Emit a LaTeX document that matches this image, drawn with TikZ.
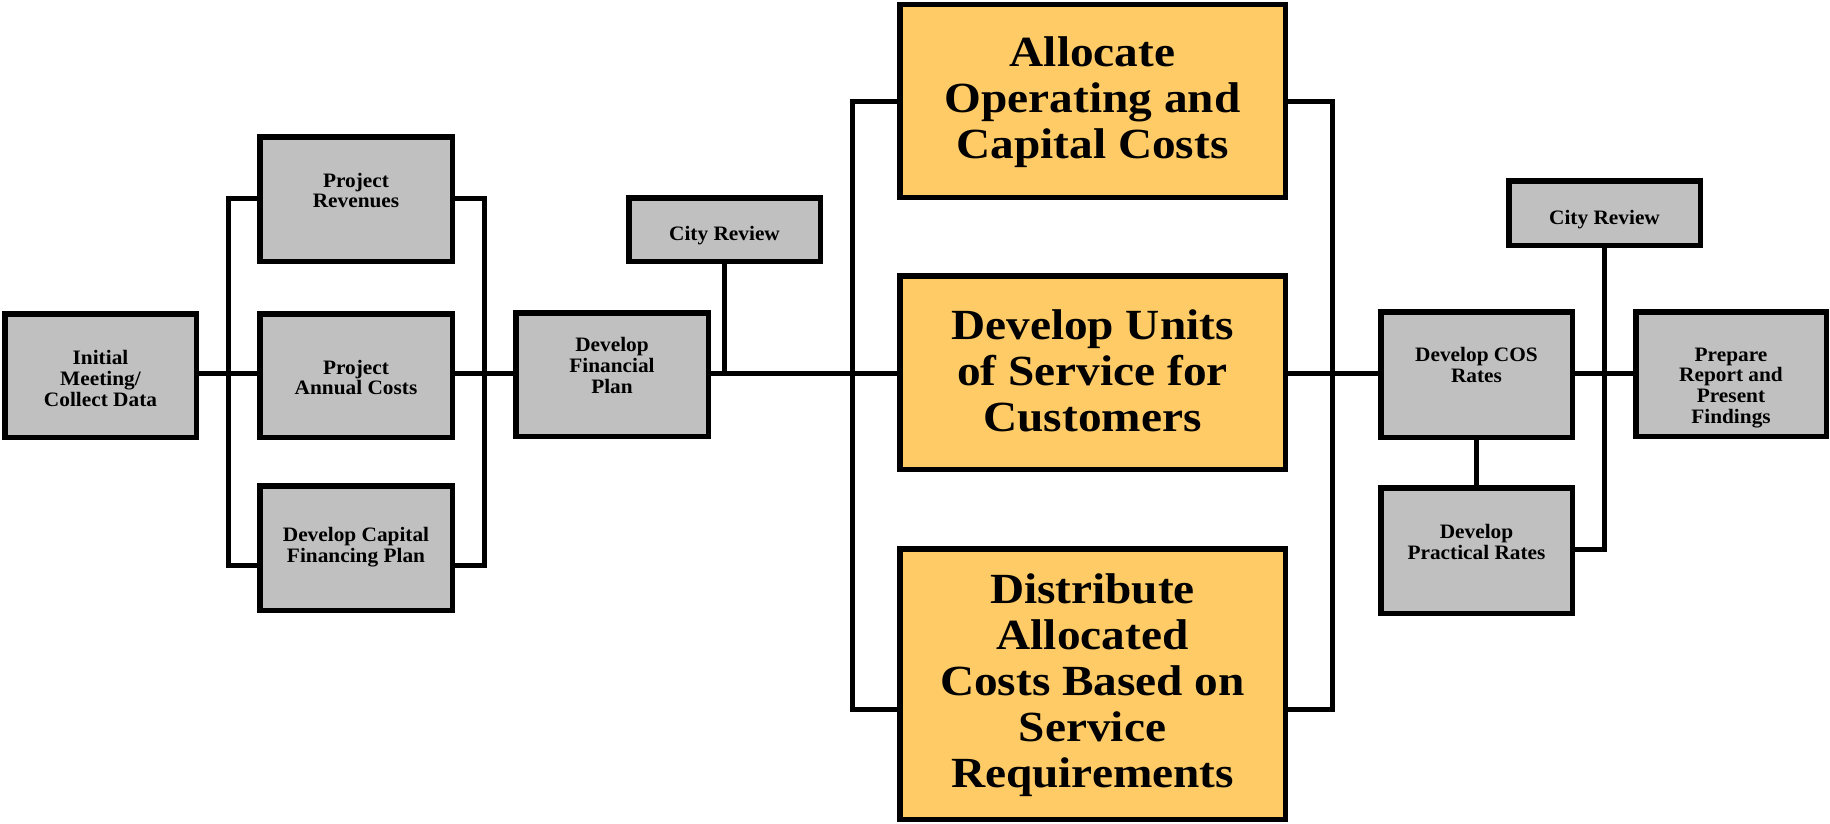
\documentclass[tikz,border=0pt]{standalone}
\usepackage{fontspec}
\setmainfont{Liberation Serif}
\newfontfamily\smallfnt[FakeStretch=1.04]{Liberation Serif}
\newfontfamily\bigfnt[FakeStretch=1.1]{Liberation Serif}
\definecolor{boxgray}{HTML}{C0C0C0}
\definecolor{boxorange}{HTML}{FECB66}
\begin{document}
\begin{tikzpicture}[x=1pt,y=-1pt,
  gbox/.style={draw=black, fill=boxgray, line width=5.5pt, inner sep=0pt, outer sep=0pt},
  obox/.style={draw=black, fill=boxorange, line width=5.5pt, inner sep=0pt, outer sep=0pt},
  stxt/.style={font=\smallfnt\bfseries\fontsize{20.5}{20.8}\selectfont, align=center, inner sep=0pt, anchor=base},
  btxt/.style={font=\bigfnt\bfseries\fontsize{43}{46}\selectfont, align=center, inner sep=0pt, anchor=base},
  conn/.style={line width=5pt}]
\useasboundingbox (0,0) rectangle (1830,824);
% boxes
\node[gbox, minimum width=191.5pt, minimum height=123.5pt] (init) at (100.5,375.5) {};
\node[gbox, minimum width=192.5pt, minimum height=124.5pt] (rev) at (356,199) {};
\node[gbox, minimum width=192.5pt, minimum height=123.5pt] (ann) at (356,375.5) {};
\node[gbox, minimum width=192.5pt, minimum height=124.5pt] (cap) at (356,548) {};
\node[gbox, minimum width=192.5pt, minimum height=123.5pt] (dfp) at (612,374.5) {};
\node[gbox, minimum width=191.5pt, minimum height=63.5pt] (cr1) at (724.5,229.5) {};
\node[obox, minimum width=385.5pt, minimum height=192.5pt] (alloc) at (1092.5,101) {};
\node[obox, minimum width=385.5pt, minimum height=193.5pt] (units) at (1092.5,372.5) {};
\node[obox, minimum width=385.5pt, minimum height=270.5pt] (dist) at (1092.5,684) {};
\node[gbox, minimum width=191.5pt, minimum height=125.5pt] (cos) at (1476.5,374.5) {};
\node[gbox, minimum width=191.5pt, minimum height=125.5pt] (prac) at (1476.5,550.5) {};
\node[gbox, minimum width=191.5pt, minimum height=64.5pt] (cr2) at (1604.5,213) {};
\node[gbox, minimum width=190.5pt, minimum height=124.5pt] (prep) at (1731,374) {};
% connector coordinates
\coordinate (ml) at (0,373.5);
\coordinate (b1t) at (228.5,198.5);
\coordinate (b1b) at (228.5,565);
\coordinate (b2t) at (484,198.5);
\coordinate (b2b) at (484,565);
\coordinate (b3t) at (852.5,102);
\coordinate (b3b) at (852.5,709);
\coordinate (b4t) at (1332,102);
\coordinate (b4b) at (1332,709);
\coordinate (rj) at (1604.5,549);
% connectors
\draw[conn] (init.east|-ml) -- (ann.west|-ml);
\draw[conn] (rev.west|-b1t) -- (b1t) -- (b1b) -- (cap.west|-b1b);
\draw[conn] (ann.east|-ml) -- (dfp.west|-ml);
\draw[conn] (rev.east|-b2t) -- (b2t) -- (b2b) -- (cap.east|-b2b);
\draw[conn] (dfp.east|-ml) -- (units.west|-ml);
\draw[conn] (cr1.south) -- (cr1.south|-ml);
\draw[conn] (alloc.west|-b3t) -- (b3t) -- (b3b) -- (dist.west|-b3b);
\draw[conn] (units.east|-ml) -- (cos.west|-ml);
\draw[conn] (alloc.east|-b4t) -- (b4t) -- (b4b) -- (dist.east|-b4b);
\draw[conn] (cos.east|-ml) -- (prep.west|-ml);
\draw[conn] (cos.south) -- (prac.north);
\draw[conn] (cr2.south) -- (rj) -- (prac.east|-rj);
% texts (anchored at the baseline of the last line)
\node[stxt] (t1) at (100.5,406.5) {Initial\\Meeting/\\Collect Data};
\node[stxt] (t2) at (356,207.8) {Project\\Revenues};
\node[stxt] (t3) at (356,394.8) {Project\\Annual Costs};
\node[stxt] (t4) at (356,562) {Develop Capital\\Financing Plan};
\node[stxt] (t5) at (612,393.5) {Develop\\Financial\\Plan};
\node[stxt] (t6) at (724.5,240) {City Review};
\node[btxt] (t7) at (1092.5,158) {Allocate\\Operating and\\Capital Costs};
\node[btxt] (t8) at (1092.5,431) {Develop Units\\of Service for\\Customers};
\node[btxt] (t9) at (1092.5,787) {Distribute\\Allocated\\Costs Based on\\Service\\Requirements};
\node[stxt] (t10) at (1476.5,382.5) {Develop COS\\Rates};
\node[stxt] (t11) at (1476.5,559) {Develop\\Practical Rates};
\node[stxt] (t12) at (1604.5,224) {City Review};
\node[stxt] (t13) at (1731,423.5) {Prepare\\Report and\\Present\\Findings};
\end{tikzpicture}
\end{document}
